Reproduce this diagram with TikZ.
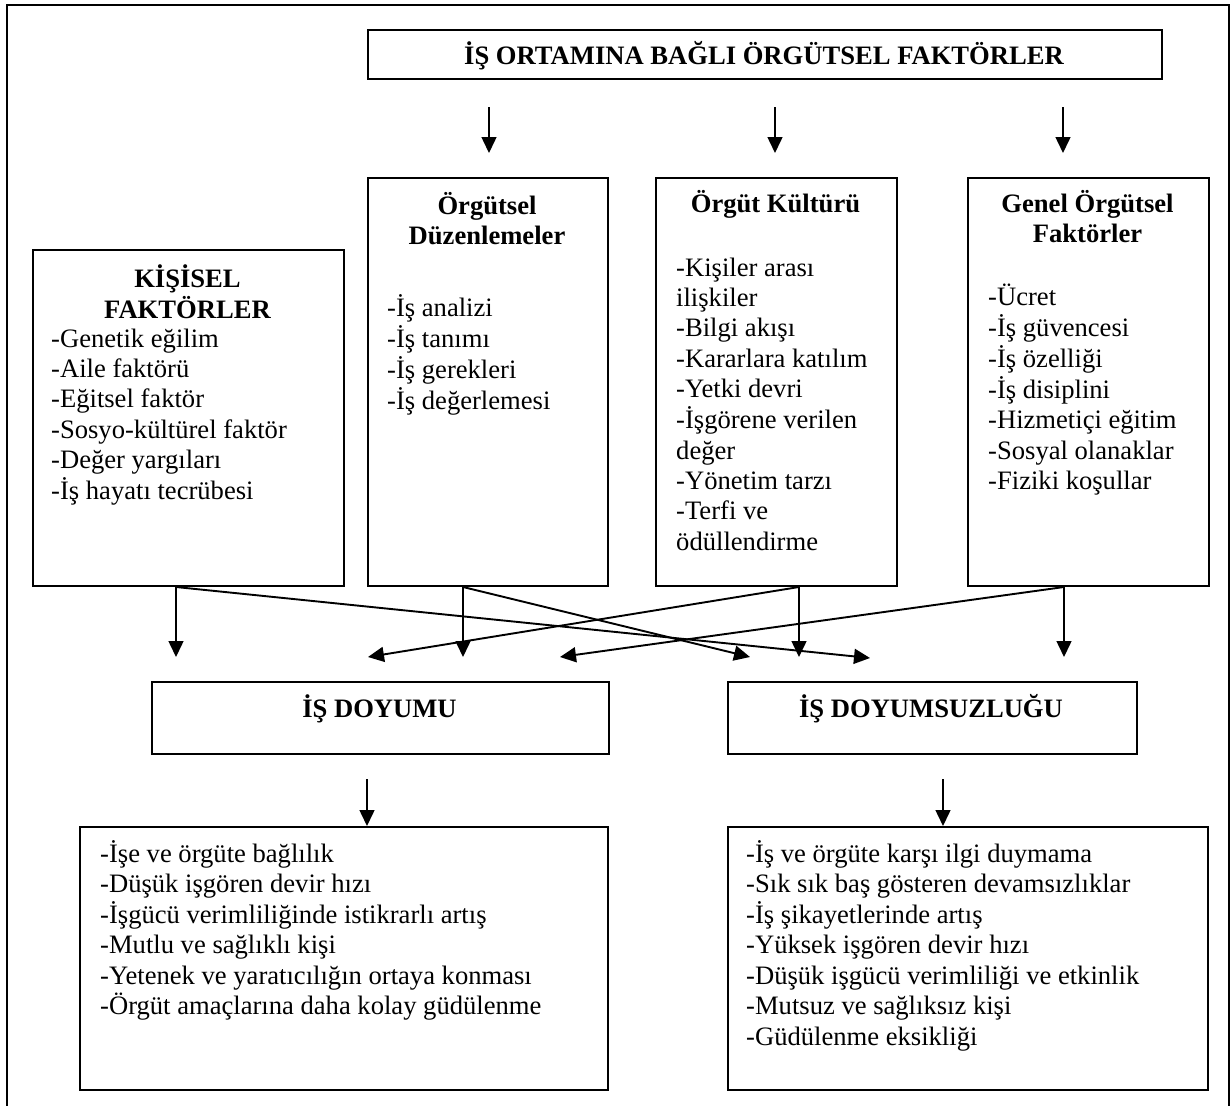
\documentclass[tikz,border=0pt]{standalone}
\usepackage{fontspec}
\setmainfont{Liberation Serif}[Ligatures={TeX,NoCommon}]
\usetikzlibrary{arrows.meta,calc}

% text blocks: first line's baseline is the block's baseline
\newcommand\leftlines[1]{\begin{tabular}[t]{@{}l@{}}#1\end{tabular}}
\newcommand\midlines[1]{\begin{tabular}[t]{@{}c@{}}#1\end{tabular}}

\tikzset{
  panel/.style={draw=black, line width=2pt, inner sep=0pt, anchor=north west},
  label/.style={inner sep=0pt, font=\fontsize{26.6}{30.4}\selectfont},
  heading/.style={label, font=\fontsize{26.6}{30.4}\selectfont\bfseries, anchor=base},
  list/.style={label, anchor=base west},
  arr/.style={line width=1.5pt, -{Triangle[length=16pt,width=15pt]}},
  cross/.style={arr, line width=1.9pt},
}

\begin{document}
\begin{tikzpicture}[x=1pt, y=-1pt]
\useasboundingbox (0,0) rectangle (1232,1106);

% outer frame, open at the bottom
\draw[line width=2pt] (7,1106) -- (7,5) -- (1229,5) -- (1229,1106);

% boxes
\node[panel, minimum width=794pt, minimum height=49pt] (env) at (367,29) {};
\node[panel, minimum width=240pt, minimum height=408pt] (duz) at (367,177) {};
\node[panel, minimum width=241pt, minimum height=408pt] (kul) at (655,177) {};
\node[panel, minimum width=241pt, minimum height=408pt] (gen) at (967,177) {};
\node[panel, minimum width=311pt, minimum height=336pt] (kis) at (32,249) {};
\node[panel, minimum width=457pt, minimum height=72pt] (doy) at (151,681) {};
\node[panel, minimum width=409pt, minimum height=72pt] (dsz) at (727,681) {};
\node[panel, minimum width=528pt, minimum height=263pt] (res1) at (79,826) {};
\node[panel, minimum width=480pt, minimum height=263pt] (res2) at (727,826) {};

% texts
\node[heading] (envT) at (764,64) {İŞ ORTAMINA BAĞLI ÖRGÜTSEL FAKTÖRLER};

\node[heading] (duzT) at (487,214) {\midlines{Örgütsel\\Düzenlemeler}};
\node[list] (duzL) at (387,316) {\leftlines{-İş analizi\\-İş tanımı\\-İş gerekleri\\-İş değerlemesi}};

\node[heading] (kulT) at (775.5,212) {Örgüt Kültürü};
\node[list] (kulL) at (676,276) {\leftlines{-Kişiler arası\\ilişkiler\\-Bilgi akışı\\-Kararlara katılım\\-Yetki devri\\-İşgörene verilen\\değer\\-Yönetim tarzı\\-Terfi ve\\ödüllendirme}};

\node[heading] (genT) at (1087.5,212) {\midlines{Genel Örgütsel\\Faktörler}};
\node[list] (genL) at (988,305) {\leftlines{-Ücret\\-İş güvencesi\\-İş özelliği\\-İş disiplini\\-Hizmetiçi eğitim\\-Sosyal olanaklar\\-Fiziki koşullar}};

\node[heading] (kisT) at (187.5,287) {\midlines{KİŞİSEL\\FAKTÖRLER}};
\node[list] (kisL) at (51,347) {\leftlines{-Genetik eğilim\\-Aile faktörü\\-Eğitsel faktör\\-Sosyo-kültürel faktör\\-Değer yargıları\\-İş hayatı tecrübesi}};

\node[heading] (doyT) at (379.5,717) {İŞ DOYUMU};
\node[heading] (dszT) at (931,717) {İŞ DOYUMSUZLUĞU};

\node[list] (res1L) at (100,862) {\leftlines{-İşe ve örgüte bağlılık\\-Düşük işgören devir hızı\\-İşgücü verimliliğinde istikrarlı artış\\-Mutlu ve sağlıklı kişi\\-Yetenek ve yaratıcılığın ortaya konması\\-Örgüt amaçlarına daha kolay güdülenme}};
\node[list] (res2L) at (746,862) {\leftlines{-İş ve örgüte karşı ilgi duymama\\-Sık sık baş gösteren devamsızlıklar\\-İş şikayetlerinde artış\\-Yüksek işgören devir hızı\\-Düşük işgücü verimliliği ve etkinlik\\-Mutsuz ve sağlıksız kişi\\-Güdülenme eksikliği}};

% arrow tips
\coordinate (t1) at (489,153);
\coordinate (t2) at (775,153);
\coordinate (t3) at (1063,153);
\coordinate (kisDown) at (176,657);
\coordinate (duzDown) at (463,657);
\coordinate (kulDown) at (799,657);
\coordinate (genDown) at (1064,657);
\coordinate (kisCross) at (870,658);
\coordinate (duzCross) at (750,657);
\coordinate (kulCross) at (368,657);
\coordinate (genCross) at (560,657);
\coordinate (r1) at (367,826);
\coordinate (r2) at (943,826);

% organisational factors feed the three groups
\draw[arr, shorten <=27pt] (env.south -| t1) -- (t1);
\draw[arr, shorten <=27pt] (env.south -| t2) -- (t2);
\draw[arr, shorten <=27pt] (env.south -| t3) -- (t3);

% factors lead to satisfaction and dissatisfaction
\draw[arr] (kis.south -| kisDown) -- (kisDown);
\draw[arr] (duz.south -| duzDown) -- (duzDown);
\draw[arr] (kul.south -| kulDown) -- (kulDown);
\draw[arr] (gen.south -| genDown) -- (genDown);
\draw[cross] (kis.south -| kisDown) -- (kisCross);
\draw[cross] (duz.south -| duzDown) -- (duzCross);
\draw[cross] (kul.south -| kulDown) -- (kulCross);
\draw[cross] (gen.south -| genDown) -- (genCross);

% outcomes
\draw[arr, shorten <=24pt] (doy.south -| r1) -- (r1);
\draw[arr, shorten <=24pt] (dsz.south -| r2) -- (r2);
\end{tikzpicture}
\end{document}
